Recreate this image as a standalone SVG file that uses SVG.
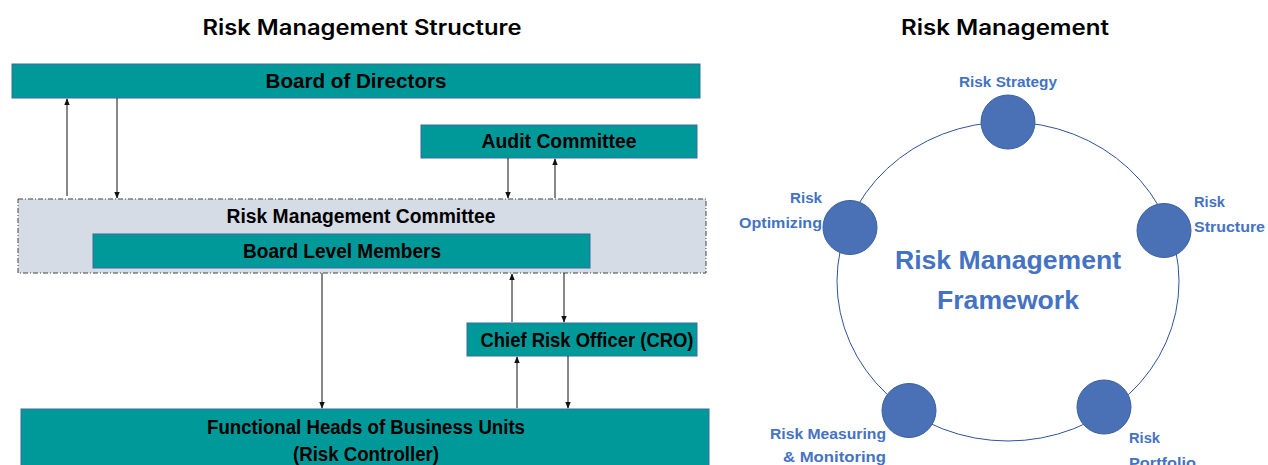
<svg xmlns="http://www.w3.org/2000/svg" width="1268" height="465" viewBox="0 0 1268 465">
<style>
.box{fill:#009999;stroke:#3b6aa0;stroke-width:1}
.bt{font-family:"Liberation Sans",Arial,sans-serif;font-weight:bold;font-size:20px;fill:#000;text-anchor:middle}
.title{font-family:Inter,"Liberation Sans",sans-serif;font-weight:600;font-size:21px;fill:#000;text-anchor:middle}
.lbl{font-family:"Liberation Sans",Arial,sans-serif;font-weight:bold;font-size:14px;fill:#4472c4}
.big{font-family:"Liberation Sans",Arial,sans-serif;font-weight:bold;font-size:25px;fill:#4472c4;text-anchor:middle}
.conn line{stroke:#111;stroke-width:1;marker-end:url(#ah)}
.dot{fill:#4a70b5;stroke:#3a5f9f;stroke-width:1}
</style>
<defs>
<marker id="ah" viewBox="0 0 10 10" refX="9" refY="5" markerWidth="7" markerHeight="7" markerUnits="userSpaceOnUse" orient="auto">
<path d="M0,1 L10,5 L0,9 Z" fill="#111"/>
</marker>
</defs>
<rect width="1268" height="465" fill="#fff"/>
<text class="title" x="362" y="35" textLength="319" lengthAdjust="spacingAndGlyphs">Risk Management Structure</text>
<text class="title" x="1005" y="35" textLength="208" lengthAdjust="spacingAndGlyphs">Risk Management</text>

<g id="board">
<rect class="box" x="12" y="64" width="688" height="34"/>
<text class="bt" x="356" y="88" textLength="181" lengthAdjust="spacingAndGlyphs">Board of Directors</text>
</g>
<g id="audit">
<rect class="box" x="421" y="125" width="276" height="33"/>
<text class="bt" x="559" y="148" textLength="155" lengthAdjust="spacingAndGlyphs">Audit Committee</text>
</g>
<g id="rmc">
<rect x="18" y="199" width="688" height="74" fill="#d6dce5" stroke="#444" stroke-width="1" stroke-dasharray="5 2 1 2"/>
<text class="bt" x="361" y="223" textLength="269" lengthAdjust="spacingAndGlyphs">Risk Management Committee</text>
</g>
<g id="blm">
<rect class="box" x="93" y="234" width="497" height="34"/>
<text class="bt" x="342" y="258" textLength="198" lengthAdjust="spacingAndGlyphs">Board Level Members</text>
</g>
<g id="cro">
<rect class="box" x="467" y="323" width="230" height="33"/>
<text class="bt" x="587" y="347" textLength="213" lengthAdjust="spacingAndGlyphs">Chief Risk Officer (CRO)</text>
</g>
<g id="fh">
<rect class="box" x="21" y="409" width="688" height="60"/>
<text class="bt" x="366" y="434" textLength="318" lengthAdjust="spacingAndGlyphs">Functional Heads of Business Units</text>
<text class="bt" x="366" y="461" textLength="146" lengthAdjust="spacingAndGlyphs">(Risk Controller)</text>
</g>

<g id="connectors" class="conn">
<line x1="67" y1="196" x2="67" y2="99"/>
<line x1="117" y1="98" x2="117" y2="198"/>
<line x1="508" y1="158" x2="508" y2="198"/>
<line x1="555" y1="198" x2="555" y2="159"/>
<line x1="322" y1="273" x2="322" y2="408"/>
<line x1="512" y1="322" x2="512" y2="274"/>
<line x1="564" y1="273" x2="564" y2="322"/>
<line x1="517" y1="408" x2="517" y2="357"/>
<line x1="568" y1="356" x2="568" y2="408"/>
</g>

<g id="framework">
<ellipse cx="1008" cy="281.5" rx="171" ry="159.5" fill="none" stroke="#2f5597" stroke-width="1"/>
<text class="big" x="1008" y="269" textLength="226" lengthAdjust="spacingAndGlyphs">Risk Management</text>
<text class="big" x="1008" y="309" textLength="142" lengthAdjust="spacingAndGlyphs">Framework</text>
</g>
<g id="strategy">
<circle class="dot" cx="1008" cy="122" r="27"/>
<text class="lbl" x="1008" y="87" text-anchor="middle" textLength="98" lengthAdjust="spacingAndGlyphs">Risk Strategy</text>
</g>
<g id="optimizing">
<circle class="dot" cx="850" cy="227.5" r="27"/>
<text class="lbl" x="822" y="203" text-anchor="end" textLength="32" lengthAdjust="spacingAndGlyphs">Risk</text>
<text class="lbl" x="822" y="228" text-anchor="end" textLength="83" lengthAdjust="spacingAndGlyphs">Optimizing</text>
</g>
<g id="structure">
<circle class="dot" cx="1164" cy="230.5" r="27"/>
<text class="lbl" x="1194" y="207" textLength="31" lengthAdjust="spacingAndGlyphs">Risk</text>
<text class="lbl" x="1194" y="232" textLength="71" lengthAdjust="spacingAndGlyphs">Structure</text>
</g>
<g id="measuring">
<circle class="dot" cx="909" cy="410.5" r="27"/>
<text class="lbl" x="886" y="439" text-anchor="end" textLength="116" lengthAdjust="spacingAndGlyphs">Risk Measuring</text>
<text class="lbl" x="886" y="462" text-anchor="end" textLength="103" lengthAdjust="spacingAndGlyphs">&amp; Monitoring</text>
</g>
<g id="portfolio">
<circle class="dot" cx="1104" cy="407" r="27"/>
<text class="lbl" x="1129" y="443" textLength="31" lengthAdjust="spacingAndGlyphs">Risk</text>
<text class="lbl" x="1129" y="468" textLength="67" lengthAdjust="spacingAndGlyphs">Portfolio</text>
</g>
</svg>
